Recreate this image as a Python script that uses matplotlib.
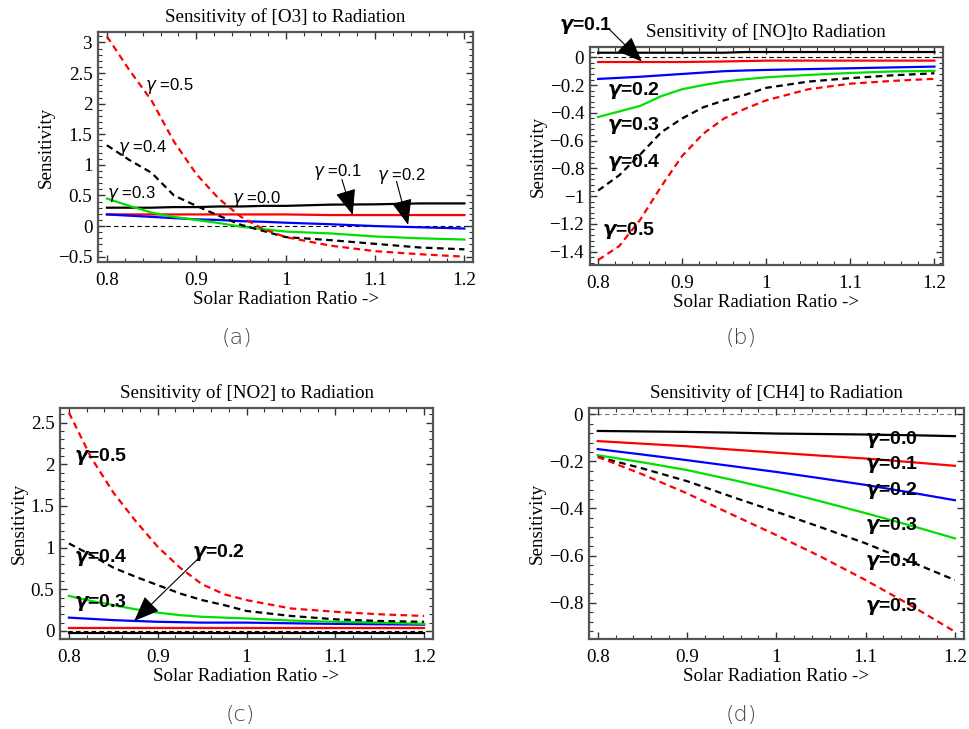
#!/usr/bin/env python
# sensitivity of species to solar radiation, four panels

import numpy as np
import matplotlib
matplotlib.use('Agg')
import matplotlib.pyplot as plt
from matplotlib.ticker import MultipleLocator, AutoMinorLocator

plt.rcParams['mathtext.fontset'] = 'custom'
plt.rcParams['mathtext.it'] = 'DejaVu Sans:italic'
plt.rcParams['mathtext.rm'] = 'Liberation Sans'
plt.rcParams['mathtext.bf'] = 'DejaVu Sans:italic:bold'

# x grid (solar radiation ratio)
ratio = [0.8, 0.825, 0.85, 0.875, 0.9, 0.925, 0.95, 0.975, 1.0, 1.05, 1.1, 1.15, 1.2]
ratio_ch4 = [0.8, 0.85, 0.9, 0.95, 1.0, 1.05, 1.1, 1.15, 1.2]
gammas = ['0.0', '0.1', '0.2', '0.3', '0.4', '0.5']

# (a) O3
o3_g0 = [0.30, 0.30, 0.30, 0.31, 0.31, 0.32, 0.32, 0.33, 0.33, 0.35, 0.355, 0.37, 0.37]
o3_g1 = [0.19, 0.19, 0.19, 0.19, 0.19, 0.19, 0.19, 0.19, 0.19, 0.18, 0.18, 0.18, 0.18]
o3_g2 = [0.19, 0.17, 0.15, 0.13, 0.11, 0.10, 0.08, 0.07, 0.055, 0.03, 0.0, -0.02, -0.04]
o3_g3 = [0.45, 0.33, 0.22, 0.15, 0.10, 0.05, -0.01, -0.05, -0.09, -0.12, -0.17, -0.20, -0.22]
o3_g4 = [1.32, 1.08, 0.87, 0.50, 0.33, 0.17, 0.02, -0.08, -0.18, -0.23, -0.29, -0.35, -0.38]
o3_g5 = [3.10, 2.55, 2.05, 1.38, 0.85, 0.45, 0.15, -0.05, -0.18, -0.32, -0.41, -0.46, -0.50]

# (b) NO
no_g0 = [0.033, 0.033, 0.033, 0.033, 0.033, 0.033, 0.033, 0.038, 0.038, 0.038, 0.038, 0.038, 0.038]
no_g1 = [-0.034, -0.034, -0.034, -0.034, -0.034, -0.032, -0.030, -0.027, -0.024, -0.024, -0.024, -0.024, -0.024]
no_g2 = [-0.156, -0.148, -0.140, -0.130, -0.120, -0.110, -0.100, -0.095, -0.091, -0.085, -0.079, -0.073, -0.067]
no_g3 = [-0.43, -0.39, -0.35, -0.28, -0.23, -0.20, -0.175, -0.158, -0.144, -0.127, -0.113, -0.102, -0.098]
no_g4 = [-0.96, -0.85, -0.70, -0.54, -0.44, -0.36, -0.31, -0.27, -0.22, -0.175, -0.15, -0.13, -0.115]
no_g5 = [-1.46, -1.36, -1.17, -0.93, -0.71, -0.55, -0.44, -0.37, -0.31, -0.23, -0.19, -0.17, -0.155]

# (c) NO2
no2_g0 = [-0.02] * 13
no2_g1 = [0.04] * 13
no2_g2 = [0.16, 0.145, 0.13, 0.12, 0.11, 0.105, 0.10, 0.10, 0.10, 0.092, 0.085, 0.08, 0.076]
no2_g3 = [0.42, 0.36, 0.31, 0.26, 0.22, 0.19, 0.17, 0.16, 0.15, 0.125, 0.11, 0.10, 0.085]
no2_g4 = [1.05, 0.91, 0.76, 0.65, 0.55, 0.45, 0.37, 0.31, 0.24, 0.18, 0.14, 0.12, 0.11]
no2_g5 = [2.62, 2.08, 1.66, 1.32, 1.01, 0.76, 0.56, 0.44, 0.37, 0.27, 0.23, 0.20, 0.18]

# (d) CH4
ch4_g0 = [-0.071, -0.073, -0.075, -0.078, -0.082, -0.084, -0.086, -0.089, -0.093]
ch4_g1 = [-0.114, -0.125, -0.136, -0.150, -0.163, -0.176, -0.188, -0.203, -0.219]
ch4_g2 = [-0.148, -0.171, -0.195, -0.220, -0.245, -0.272, -0.300, -0.332, -0.365]
ch4_g3 = [-0.174, -0.204, -0.237, -0.278, -0.322, -0.370, -0.420, -0.472, -0.527]
ch4_g4 = [-0.181, -0.230, -0.284, -0.350, -0.414, -0.480, -0.548, -0.625, -0.704]
ch4_g5 = [-0.181, -0.255, -0.336, -0.425, -0.513, -0.605, -0.704, -0.810, -0.923]

styles = [('k', '-'), ('r', '-'), ('b', '-'), ('#00e000', '-'), ('k', (0, (3, 2))), ('r', (0, (3, 2)))]

serif = 'Liberation Serif'
fs = 13.7
fig = plt.figure(figsize=(9.7, 7.29), dpi=100)


def setup(ax, title, ylim, ymajor, zero_color='k'):
	ax.set_xlim(0.79, 1.21)
	ax.set_ylim(*ylim)
	ax.axhline(0, color=zero_color, lw=0.8, ls=(0, (4, 3)), zorder=1)
	ax.xaxis.set_major_locator(MultipleLocator(0.1))
	ax.xaxis.set_minor_locator(AutoMinorLocator(5))
	ax.yaxis.set_major_locator(MultipleLocator(ymajor))
	ax.yaxis.set_minor_locator(AutoMinorLocator(5))
	ax.tick_params(which='both', direction='in', top=True, right=True, colors='#333333', labelcolor='k', pad=4)
	ax.tick_params(axis='x', which='major', pad=7.5)
	ax.tick_params(which='major', length=5, width=1.0)
	ax.tick_params(which='minor', length=3, width=0.8)
	ax.xaxis.set_major_formatter(plt.FuncFormatter(lambda v, p: '%g' % round(v, 2)))
	ax.yaxis.set_major_formatter(plt.FuncFormatter(lambda v, p: ('%g' % round(v, 2)).replace('-', '\u2212')))
	for lab in ax.get_xticklabels() + ax.get_yticklabels():
		lab.set_fontfamily(serif)
		lab.set_fontsize(fs)
	for s in ax.spines.values():
		s.set_linewidth(1.6)
		s.set_color('#555555')
	ax.set_title(title, fontfamily=serif, fontsize=fs, pad=7)
	ax.set_xlabel('Solar Radiation Ratio ->', fontfamily=serif, fontsize=fs, labelpad=1)
	ax.set_ylabel('Sensitivity', fontfamily=serif, fontsize=fs, labelpad=2)


def draw(ax, x, series):
	for y, (c, ls) in zip(series, styles):
		ax.plot(x, y, color=c, ls=ls, lw=1.6, zorder=2)


def arrow(ax, head, tail):
	ax.annotate('', xy=head, xytext=tail,
		arrowprops=dict(arrowstyle='-|>,head_length=0.8,head_width=0.32', mutation_scale=20,
			lw=0.8, color='k', shrinkA=0, shrinkB=0))


# (a)
ax = fig.add_axes([0.101, 0.6406, 0.387, 0.3155])
setup(ax, 'Sensitivity of [O3] to Radiation', (-0.587, 3.17), 0.5)
draw(ax, ratio, [o3_g0, o3_g1, o3_g2, o3_g3, o3_g4, o3_g5])
lab = dict(fontsize=12, fontfamily='Liberation Sans', va='center')
ax.text(0.843, 2.28, r'$\gamma$ =0.5', **lab)
ax.text(0.812, 1.27, r'$\gamma$ =0.4', **lab)
ax.text(0.800, 0.53, r'$\gamma$ =0.3', **lab)
ax.text(0.940, 0.44, r'$\gamma$ =0.0', **lab)
ax.text(1.031, 0.88, r'$\gamma$ =0.1', **lab)
ax.text(1.102, 0.82, r'$\gamma$ =0.2', **lab)
arrow(ax, (1.075, 0.18), (1.063, 0.76))
arrow(ax, (1.137, 0.02), (1.124, 0.73))

# (b)
ax = fig.add_axes([0.608, 0.6365, 0.364, 0.299])
setup(ax, 'Sensitivity of [NO]to Radiation', (-1.496, 0.074), 0.2)
draw(ax, ratio, [no_g0, no_g1, no_g2, no_g3, no_g4, no_g5])
blab = dict(fontsize=14, fontfamily='Liberation Sans', fontweight='bold', va='center')
ax.text(0.754, 0.226, r'$\mathbf{\gamma}$=0.1', **blab)
ax.text(0.810, -0.24, r'$\mathbf{\gamma}$=0.2', **blab)
ax.text(0.810, -0.49, r'$\mathbf{\gamma}$=0.3', **blab)
ax.text(0.810, -0.76, r'$\mathbf{\gamma}$=0.4', **blab)
ax.text(0.805, -1.25, r'$\mathbf{\gamma}$=0.5', **blab)
arrow(ax, (0.852, -0.031), (0.812, 0.209))

# (c)
ax = fig.add_axes([0.0619, 0.1235, 0.3845, 0.317])
setup(ax, 'Sensitivity of [NO2] to Radiation', (-0.096, 2.676), 0.5)
draw(ax, ratio, [no2_g0, no2_g1, no2_g2, no2_g3, no2_g4, no2_g5])
ax.text(0.806, 2.09, r'$\mathbf{\gamma}$=0.5', **blab)
ax.text(0.806, 0.88, r'$\mathbf{\gamma}$=0.4', **blab)
ax.text(0.806, 0.344, r'$\mathbf{\gamma}$=0.3', **blab)
ax.text(0.939, 0.944, r'$\mathbf{\gamma}$=0.2', **blab)
arrow(ax, (0.8735, 0.12), (0.946, 0.872))

# (d)
ax = fig.add_axes([0.607, 0.1235, 0.3866, 0.317])
setup(ax, 'Sensitivity of [CH4] to Radiation', (-0.954, 0.027), 0.2, zero_color='#777777')
draw(ax, ratio_ch4, [ch4_g0, ch4_g1, ch4_g2, ch4_g3, ch4_g4, ch4_g5])
for g, yy in zip(gammas, [-0.107, -0.213, -0.322, -0.473, -0.626, -0.817]):
	ax.text(1.099, yy, r'$\mathbf{\gamma}$=' + g, **blab)

# captions
cap = dict(fontsize=16, fontfamily='DejaVu Sans', color='#444444', ha='center', va='center', fontweight='light')
fig.text(237 / 970, 1 - 338 / 729, '(a)', **cap)
fig.text(741 / 970, 1 - 338 / 729, '(b)', **cap)
fig.text(240 / 970, 1 - 715 / 729, '(c)', **cap)
fig.text(741 / 970, 1 - 715 / 729, '(d)', **cap)

fig.savefig('out.png', dpi=100)
